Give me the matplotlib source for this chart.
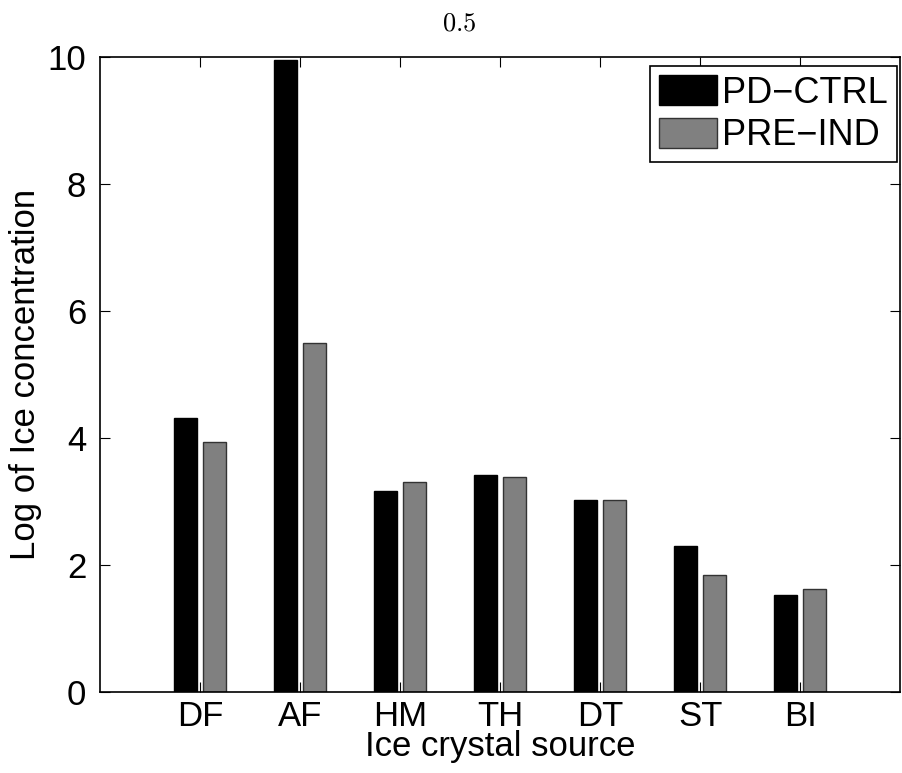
import matplotlib
matplotlib.use('Agg')
import matplotlib.pyplot as plt
import numpy as np

plt.rcParams['font.family'] = ['Liberation Sans', 'DejaVu Sans']
plt.rcParams['mathtext.fontset'] = 'cm'

# Datos
categories = ['DF', 'AF', 'HM', 'TH', 'DT', 'ST', 'BI']
pd_ctrl = [4.31, 9.96, 3.17, 3.42, 3.02, 2.30, 1.52]
pre_ind = [3.94, 5.49, 3.30, 3.38, 3.03, 1.84, 1.62]
series_names = ['PD\u2212CTRL', 'PRE\u2212IND']

fig = plt.figure(figsize=(9.02, 7.73), dpi=100)
ax = fig.add_axes([0.111, 0.105, 0.887, 0.821])

x = np.arange(1, len(categories) + 1)
w = 0.229
off = 0.143
ax.bar(x - off, pd_ctrl, w, color='black', edgecolor='black', linewidth=1, label=series_names[0])
ax.bar(x + off, pre_ind, w, color='#808080', edgecolor='#333333', linewidth=1, label=series_names[1])

ax.set_xlim(0, 8)
ax.set_ylim(0, 10)
ax.set_xticks(x)
ax.set_xticklabels(categories)
ax.set_yticks([0, 2, 4, 6, 8, 10])
ax.tick_params(direction='in', length=7, width=0.8, top=True, right=True,
               labelsize=25)
ax.tick_params(axis='x', pad=6)
ax.tick_params(axis='y', pad=10)
for s in ax.spines.values():
    s.set_linewidth(1.2)

ax.set_xlabel('Ice crystal source', fontsize=25, labelpad=-2)
ax.set_ylabel('Log of Ice concentration', fontsize=25, labelpad=4)
# el título está centrado en la figura, no en los ejes
fig.text(0.509, 0.970, r'$0.5$', fontsize=19, ha='center', va='center')

leg = ax.legend(loc='upper right', bbox_to_anchor=(0.996, 0.986),
                fontsize=26, fancybox=False, framealpha=1,
                edgecolor='black', handlelength=1.6, handleheight=0.9,
                handletextpad=0.15, borderpad=0.25, labelspacing=0.2,
                borderaxespad=0)
leg.get_frame().set_linewidth(1.2)

fig.savefig('out.png', dpi=100)
